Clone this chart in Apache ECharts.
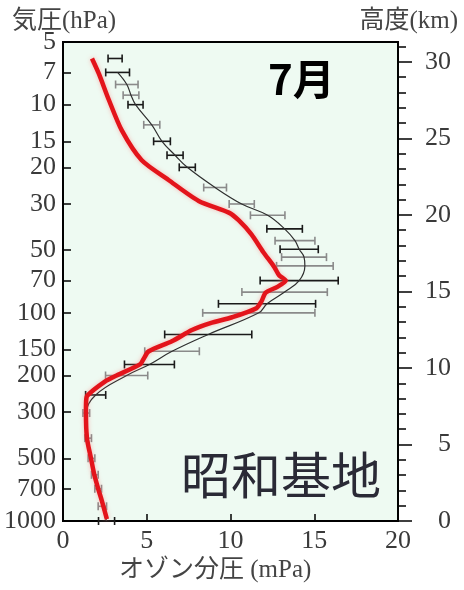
<!DOCTYPE html>
<html>
<head>
<meta charset="utf-8">
<script src="https://cdn.jsdelivr.net/npm/echarts@6/dist/echarts.min.js"></script>
<style>
  html, body { margin: 0; padding: 0; background: #fff; }
  #chart { width: 464px; height: 590px; }
</style>
</head>
<body>
<div id="chart"></div>
<script>
// July ozone climatology: pressure levels (hPa), mean partial pressure and standard deviation (mPa)
const levels = [6, 7, 8, 9, 10, 12.5, 15, 17.5, 20, 25, 30, 34, 39.5, 45, 49.5, 54, 59.5, 70, 79.5, 90.5, 100, 127, 153, 177, 200, 248, 303, 400, 500, 600, 700, 850, 1000];
const meanO3 = [3.11, 3.26, 3.81, 4.06, 4.33, 5.30, 5.91, 6.69, 7.42, 9.08, 10.67, 12.22, 13.23, 13.85, 14.10, 14.39, 14.44, 14.10, 13.23, 12.18, 11.69, 8.67, 6.51, 5.16, 3.80, 1.95, 1.39, 1.50, 1.70, 1.90, 2.10, 2.35, 2.60];
const sdO3 = [0.42, 0.71, 0.67, 0.47, 0.45, 0.48, 0.50, 0.48, 0.48, 0.68, 0.75, 1.03, 1.06, 1.19, 1.14, 1.34, 1.69, 2.33, 2.55, 2.90, 3.35, 2.60, 1.63, 1.49, 1.26, 0.60, 0.20, 0.20, 0.20, 0.20, 0.20, 0.25, 0.48];
// Levels whose deviation bars are printed in the darker tone
const darkLevels = [6, 7, 10, 15, 17.5, 20, 39.5, 49.5, 70, 90.5, 127, 177, 248, 1000];

// Single sounding profile (red)
const obsP = [6.0, 7.1, 9.5, 13.3, 18.5, 23, 29, 33, 36, 42, 51, 60, 66, 70, 75, 80, 88, 95, 105, 112, 121, 137, 153, 166, 177, 200, 214, 250, 266, 300, 400, 500, 600, 700, 800, 980];
const obsO3 = [1.73, 2.14, 2.74, 3.51, 4.70, 6.30, 8.10, 9.90, 10.50, 11.25, 11.95, 12.60, 12.90, 13.30, 12.80, 12.10, 11.85, 11.55, 10.10, 8.80, 7.70, 6.50, 5.12, 4.82, 4.60, 3.20, 2.50, 1.45, 1.38, 1.37, 1.43, 1.67, 1.87, 2.10, 2.32, 2.62];

// Axis ticks
const pressureTicks = [5, 7, 10, 15, 20, 30, 50, 70, 100, 150, 200, 300, 500, 700, 1000];
const heightTicks = [0, 5, 10, 15, 20, 25, 30];
const heightMinorTicks = [0, 1, 2, 3, 4, 5, 6, 7, 8, 9, 10, 11, 12, 13, 14, 15, 16, 17, 18, 19, 20, 21, 22, 23, 24, 25, 26, 27, 28, 29, 30, 31];
const ozoneTicks = [0, 5, 10, 15, 20];

const lg = Math.log10;
const serif = "'Liberation Serif', 'Noto Sans CJK JP', serif";
const numColor = '#3a3a3a';

const chart = echarts.init(document.getElementById('chart'), null, { renderer: 'canvas' });

function barSeries(name, rows, color) {
  return {
    type: 'custom',
    name: name,
    xAxisIndex: 0,
    yAxisIndex: 0,
    z: 3,
    data: rows,
    renderItem: function (params, api) {
      const m = api.value(0), y = api.value(1), s = api.value(2);
      const a = api.coord([m - s, y]);
      const b = api.coord([m + s, y]);
      const h = 4;
      const st = { stroke: color, lineWidth: 1.6 };
      return {
        type: 'group',
        children: [
          { type: 'line', shape: { x1: a[0], y1: a[1], x2: b[0], y2: b[1] }, style: st },
          { type: 'line', shape: { x1: a[0], y1: a[1] - h, x2: a[0], y2: a[1] + h }, style: st },
          { type: 'line', shape: { x1: b[0], y1: b[1] - h, x2: b[0], y2: b[1] + h }, style: st }
        ]
      };
    }
  };
}

const darkRows = [], lightRows = [];
levels.forEach(function (p, i) {
  const row = [meanO3[i], lg(p), sdO3[i]];
  (darkLevels.indexOf(p) >= 0 ? darkRows : lightRows).push(row);
});

const numLabel = { fontFamily: serif, fontSize: 26, color: numColor };

const option = {
  animation: false,
  backgroundColor: '#ffffff',
  textStyle: { fontFamily: serif },
  grid: {
    left: 63, right: 66, top: 42, bottom: 69,
    show: true,
    backgroundColor: '#eefaf2',
    borderColor: '#000',
    borderWidth: 2
  },
  xAxis: {
    type: 'value',
    min: 0, max: 20, interval: 5,
    axisLine: { show: true, lineStyle: { color: '#000', width: 2 } },
    axisTick: { show: true, inside: true, length: 7, lineStyle: { color: '#000', width: 1.5 } },
    axisLabel: Object.assign({ margin: 7, customValues: ozoneTicks }, numLabel),
    splitLine: { show: false }
  },
  yAxis: [
    {
      type: 'value',
      min: lg(5), max: 3,
      inverse: true,
      position: 'left',
      axisLine: { show: true, lineStyle: { color: '#000', width: 2 } },
      axisTick: { show: true, inside: true, length: 8, lineStyle: { color: '#000', width: 1.5 },
        customValues: pressureTicks.map(lg) },
      axisLabel: Object.assign({
        margin: 7,
        customValues: pressureTicks.map(lg),
        formatter: function (v) { return String(Math.round(Math.pow(10, v))); }
      }, numLabel),
      splitLine: { show: false }
    },
    {
      type: 'value',
      min: 0, max: 31.3,
      position: 'right',
      axisLine: { show: true, lineStyle: { color: '#000', width: 2 } },
      axisTick: { show: true, inside: false, length: 8, lineStyle: { color: '#000', width: 1.5 },
        customValues: heightMinorTicks },
      axisLabel: { show: false },
      splitLine: { show: false }
    },
    {
      type: 'value',
      min: 0, max: 31.3,
      position: 'right',
      axisLine: { show: true, lineStyle: { color: '#000', width: 2 } },
      axisTick: { show: true, inside: false, length: 14, lineStyle: { color: '#000', width: 1.5 },
        customValues: heightTicks },
      axisLabel: Object.assign({ margin: 53, align: 'right', customValues: heightTicks }, numLabel),
      splitLine: { show: false }
    }
  ],
  series: [
    barSeries('σ light', lightRows, '#8a8a8a'),
    barSeries('σ dark', darkRows, '#1a1a1a'),
    {
      type: 'line',
      name: '平均',
      xAxisIndex: 0, yAxisIndex: 0,
      z: 4,
      showSymbol: false,
      smooth: 0.4,
      data: levels.slice(1).map(function (p, i) { return [meanO3[i + 1], lg(p)]; }),
      lineStyle: { color: '#2f2f2f', width: 1.2 }
    },
    {
      type: 'line',
      name: '観測',
      xAxisIndex: 0, yAxisIndex: 0,
      z: 5,
      showSymbol: false,
      smooth: 0.25,
      data: obsP.map(function (p, i) { return [obsO3[i], lg(p)]; }),
      lineStyle: { color: '#e3141b', width: 4.5, shadowColor: 'rgba(255,120,120,0.5)', shadowBlur: 4 }
    }
  ],
  graphic: [
    { type: 'text', left: 12, top: 9,
      style: { text: '気圧(hPa)', fontFamily: serif, fontSize: 25, fill: '#444' } },
    { type: 'text', right: 6, top: 9,
      style: { text: '高度(km)', fontFamily: serif, fontSize: 25, fill: '#444' } },
    { type: 'text', left: 268, top: 58,
      style: { text: '7月', fontFamily: 'Noto Sans CJK JP', fontWeight: 'bold', fontSize: 42, fill: '#000' } },
    { type: 'text', left: 181, top: 450,
      style: { text: '昭和基地', fontFamily: 'Noto Sans CJK JP', fontSize: 50, fill: '#2a2a36' } },
    { type: 'text', left: 119, top: 558,
      style: { text: 'オゾン分圧 (mPa)', fontFamily: serif, fontSize: 25, fill: '#444' } }
  ]
};

chart.setOption(option);
</script>
</body>
</html>
